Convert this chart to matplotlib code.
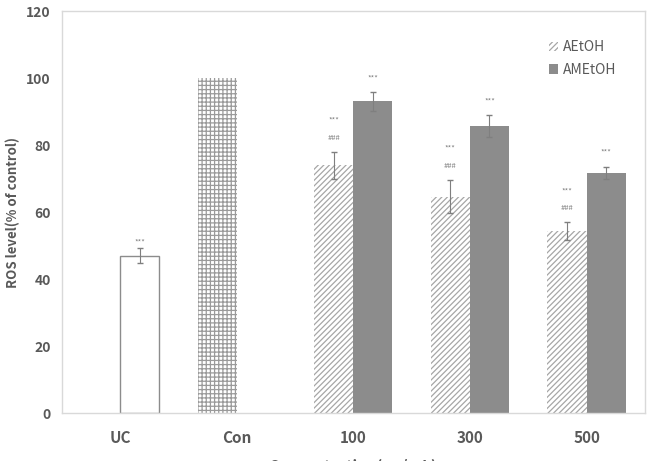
import numpy as np
from matplotlib import pyplot as plot

# data
groups = ["UC", "Con", "100", "300", "500"]
ucVal, ucErr = 47, 2.2
conVal = 100
aEtOH = [74, 64.6, 54.3]
aEtOHErr = [4.0, 5.0, 2.7]
amEtOH = [93.1, 85.7, 71.8]
amEtOHErr = [2.8, 3.3, 1.8]
seriesNames = ["AEtOH", "AMEtOH"]

plot.rcParams['font.family'] = ['Noto Sans CJK KR', 'DejaVu Sans']
plot.rcParams['hatch.linewidth'] = 0.9

fig = plot.figure(figsize=(6.52, 4.61), dpi=100)
ax = fig.add_axes([0.095, 0.104, 0.894, 0.872])

txtCol = '#595959'
frameCol = '#d9d9d9'
solidCol = '#8c8c8c'
w = 0.335
x = np.arange(len(groups))
xd = x[2:]

# UC and control
ax.bar(x[0] + w/2, ucVal, w, color='white', edgecolor='#8c8c8c', linewidth=1.0)
ax.errorbar(x[0] + w/2, ucVal, yerr=ucErr, fmt='none', ecolor='#7f7f7f', elinewidth=0.8, capsize=2)
ax.bar(x[1] - w/2, conVal, w, color='white', edgecolor='#9a9a9a', hatch='++++', linewidth=0)

# extracts
ax.bar(xd - w/2, aEtOH, w, color='white', edgecolor='#a6a6a6', hatch='//////', linewidth=0, label=seriesNames[0])
ax.bar(xd + w/2, amEtOH, w, color=solidCol, edgecolor=solidCol, linewidth=0, label=seriesNames[1])
ax.errorbar(xd - w/2, aEtOH, yerr=aEtOHErr, fmt='none', ecolor='#7f7f7f', elinewidth=0.8, capsize=2)
ax.errorbar(xd + w/2, amEtOH, yerr=amEtOHErr, fmt='none', ecolor='#7f7f7f', elinewidth=0.8, capsize=2)

# significance marks
sKw = dict(ha='center', va='center', fontsize=5.5, color='#7f7f7f')
ax.text(x[0] + w/2, ucVal + ucErr + 1.6, '***', **sKw)
for xi, v, e in zip(xd, aEtOH, aEtOHErr):
  ax.text(xi - w/2, v + e + 4.2, '###', **sKw)
  ax.text(xi - w/2, v + e + 9.2, '***', **sKw)
for xi, v, e in zip(xd, amEtOH, amEtOHErr):
  ax.text(xi + w/2, v + e + 4.0, '***', **sKw)

ax.set_xlim(-0.5, 4.5)
ax.set_ylim(0, 120)
ax.set_yticks(range(0, 121, 20))
ax.set_xticks(x)
ax.set_xticklabels(groups, fontsize=11, fontweight='bold', color=txtCol)
for lab in ax.get_yticklabels():
  lab.set_fontsize(10)
  lab.set_fontweight('bold')
  lab.set_color(txtCol)
ax.tick_params(axis='both', length=0)
ax.tick_params(axis='x', pad=12)
ax.tick_params(axis='y', pad=8)
for s in ax.spines.values():
  s.set_color(frameCol)
  s.set_linewidth(1.0)

ax.set_ylabel("ROS level(% of control)", fontsize=9.5, fontweight='bold', color=txtCol, labelpad=4)
fig.text(0.54, -0.012, "Concentration(µg/mL)", ha='center', va='center', fontsize=11,
         fontweight='bold', color=txtCol)

ax.legend(loc='upper right', bbox_to_anchor=(0.972, 0.958), frameon=False, fontsize=10,
          handlelength=0.7, handleheight=0.7, handletextpad=0.3, labelspacing=0.6,
          labelcolor=txtCol)

fig.savefig('out.png', dpi=100)
